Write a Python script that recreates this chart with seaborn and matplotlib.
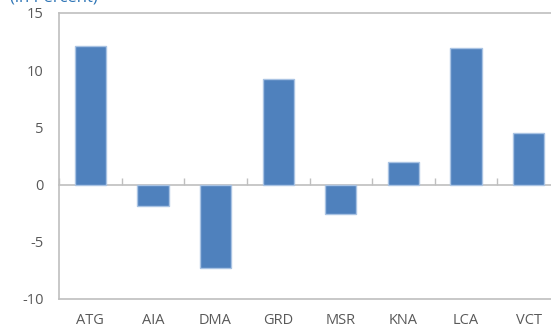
import matplotlib
matplotlib.use("Agg")
import matplotlib.pyplot as plt
import seaborn as sns
import pandas as pd
import numpy as np

# Country codes and percentage values
countries = ["ATG", "AIA", "DMA", "GRD", "MSR", "KNA", "LCA", "VCT"]
values = [12.1, -1.9, -7.3, 9.2, -2.6, 2.0, 11.9, 4.5]
y_ticks = [-10, -5, 0, 5, 10, 15]

sns.set_theme(style="white")
plt.rcParams["font.family"] = ["Open Sans", "DejaVu Sans"]

df = pd.DataFrame({"country": countries, "value": values})

fig = plt.figure(figsize=(5.51, 3.32), dpi=100)
ax = fig.add_axes([59 / 551, 1 - 299 / 332, 501 / 551, 286 / 332])

sns.barplot(data=df, x="country", y="value", ax=ax, color="#4F81BD",
            saturation=1, width=0.5, edgecolor="#A9C3E3", linewidth=1)

grey = "#BFBFBF"
ax.set_ylim(-10, 15)
ax.set_xlim(-0.5, len(countries) - 0.5)
ax.set_yticks(y_ticks)
ax.set_yticklabels([str(t) for t in y_ticks])
ax.set_xlabel("")
ax.set_ylabel("")

for side in ["top", "bottom", "left"]:
    ax.spines[side].set_visible(True)
    ax.spines[side].set_color(grey)
    ax.spines[side].set_linewidth(1.2)
ax.spines["right"].set_visible(False)

ax.tick_params(axis="y", direction="in", length=4, width=1, color=grey,
               labelsize=10.5, labelcolor="#595959", pad=11)
ax.tick_params(axis="x", length=0, labelsize=10.5, labelcolor="#595959", pad=10)

# Category axis running along zero, with ticks between categories
zero_frac = (0 - (-10)) / (15 - (-10))
sec = ax.secondary_xaxis(zero_frac)
sec.spines["bottom"].set_color(grey)
sec.spines["bottom"].set_linewidth(1.2)
sec.set_xticks(np.arange(-0.5, len(countries), 1.0))
sec.tick_params(axis="x", direction="in", length=5, width=1, color=grey,
                labelbottom=False)
sec.set_zorder(0)

fig.text(0.018, 1 - 1.5 / 332, "(in Percent)", color="#2E75B6", fontsize=12,
         va="baseline", ha="left")

fig.savefig("out.png", dpi=100)
